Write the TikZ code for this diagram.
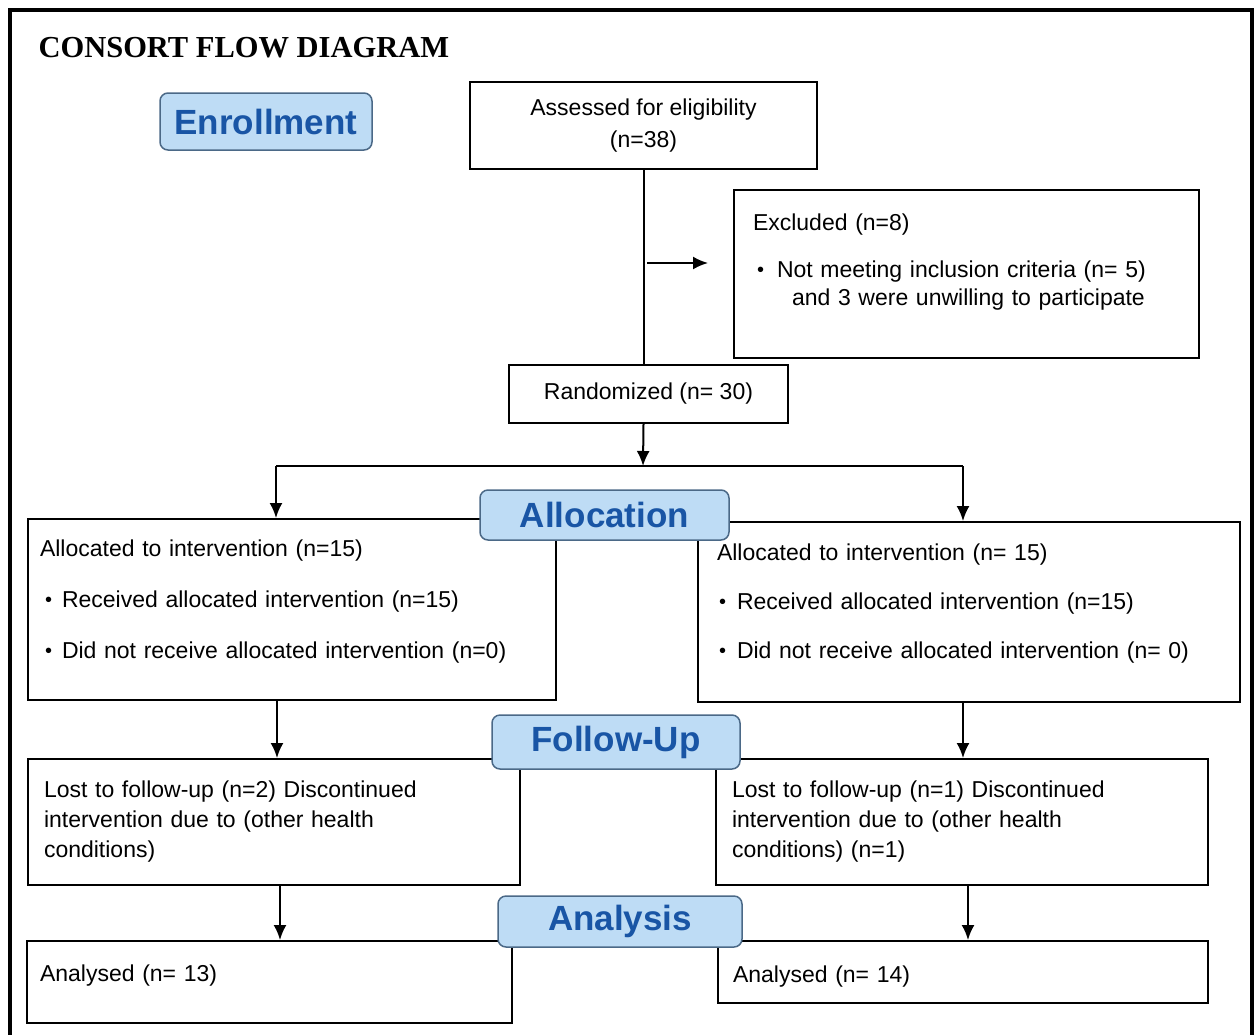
\documentclass[tikz,border=0pt]{standalone}
\usepackage{fontspec}
\setmainfont{Liberation Sans}
\newfontfamily\titlefont{Liberation Serif}
\usepackage{tikz}
\usetikzlibrary{arrows.meta,positioning}
\definecolor{stageblue}{RGB}{190,220,245}
\definecolor{stageedge}{RGB}{75,105,135}
\definecolor{stagetext}{RGB}{25,85,165}
\newcommand{\bul}[2]{\hspace*{#1}\raisebox{0.1ex}{\fontsize{20}{20}\selectfont\textbullet}\hspace{#2}}

\begin{document}
\begin{tikzpicture}[x=1pt, y=-1pt, >={Latex[length=15pt,width=13pt]},
 every node/.style={font=\fontsize{23}{28}\selectfont},
 box/.style={draw, line width=2pt, align=left},
 stage/.style={draw=stageedge, line width=1.5pt, fill=stageblue, rounded corners=8pt, text=stagetext, inner sep=0pt, font=\fontsize{35}{40}\selectfont\bfseries},
 link/.style={->, line width=2pt}]
\useasboundingbox (0,0) rectangle (1255,1034);
\draw[line width=4pt] (10,1040) -- (10,10) -- (1252,10) -- (1252,1040);
\node[anchor=base west, font=\fontsize{30.5}{34}\selectfont\titlefont\bfseries] (title) at (35,57) {CONSORT FLOW DIAGRAM};
% enrollment
\node[box, align=center, inner sep=0pt, minimum width=347, minimum height=87, font=\fontsize{23}{32}\selectfont] (assess) at (643.5,125.5) {Assessed for eligibility\\(n=38)};
\node[box, inner xsep=19pt, text width=427pt, minimum height=168] (excl) at (966.5,274) {Excluded (n=8)\\[19pt]\bul{4pt}{13pt}Not meeting inclusion criteria (n= 5)\\\hspace*{39pt}and 3 were unwilling to participate\\[1pt]\mbox{}};
\node[box, align=center, inner sep=0pt, minimum width=279, minimum height=58] (rand) at (648.5,394) {Randomized (n= 30)};
\coordinate (exA) at (647,263);
\coordinate (exB) at (708,263);
\draw[line width=2pt] (assess.south) -- (assess.south |- rand.north);
\draw[link] (exA) -- (exB);
% allocation
\coordinate (split) at (643,466);
\coordinate (splitL) at (276,466);
\coordinate (splitR) at (963,466);
\node[box, inner xsep=12pt, text width=504pt, minimum height=181] (alloL) at (292,609.5) {Allocated to intervention (n=15)\\[23pt]\bul{5pt}{10pt}Received allocated intervention (n=15)\\[23pt]\bul{5pt}{10pt}Did not receive allocated intervention (n=0)\\[-7pt]\mbox{}};
\node[box, inner xsep=19pt, text width=504pt, minimum height=180] (alloR) at (969,612) {Allocated to intervention (n= 15)\\[21pt]\bul{2pt}{11pt}Received allocated intervention (n=15)\\[21pt]\bul{2pt}{11pt}Did not receive allocated intervention (n= 0)\\[-6pt]\mbox{}};
\draw[link] (assess.south |- rand.south) -- (split);
\draw[line width=2pt] (splitL) -- (splitR);
\draw[link] (splitL) -- (splitL |- alloL.north);
\draw[link] (splitR) -- (splitR |- alloR.north);
% follow-up
\node[box, inner xsep=16pt, text width=460pt, minimum height=126, font=\fontsize{23}{30}\selectfont] (follL) at (274,822) {Lost to follow-up (n=2) Discontinued\\intervention due to (other health\\conditions)};
\node[box, inner xsep=16pt, text width=460pt, minimum height=126, font=\fontsize{23}{30}\selectfont] (follR) at (962,822) {Lost to follow-up (n=1) Discontinued\\intervention due to (other health\\conditions) (n=1)};
\draw[link] ([xshift=-15pt]alloL.south) -- ([xshift=-15pt]alloL.south |- follL.north);
\draw[link] ([xshift=-6pt]alloR.south) -- ([xshift=-6pt]alloR.south |- follR.north);
% analysis
\node[box, inner xsep=13pt, text width=459pt, minimum height=82, text depth=17pt] (anaL) at (269.5,982) {Analysed (n= 13)};
\node[box, inner xsep=15pt, text width=460pt, minimum height=62, text height=25pt] (anaR) at (963,972) {Analysed (n= 14)};
\draw[link] ([xshift=6pt]follL.south) -- ([xshift=6pt]follL.south |- anaL.north);
\draw[link] ([xshift=6pt]follR.south) -- ([xshift=6pt]follR.south |- anaR.north);
% stage labels
\node[stage, minimum width=212, minimum height=57] (enroll) at (266,121.5) {Enrollment};
\node[stage, minimum width=249, minimum height=50] (allocation) at (604.5,515) {Allocation};
\node[stage, minimum width=248, minimum height=54] (followup) at (616,742) {Follow-Up};
\node[stage, minimum width=244, minimum height=51] (analysis) at (620,921.5) {Analysis};
\end{tikzpicture}
\end{document}
